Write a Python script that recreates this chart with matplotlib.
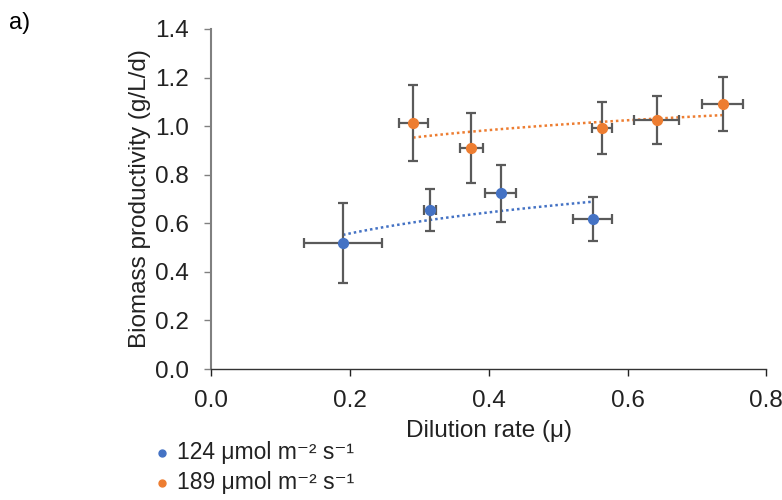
import matplotlib
matplotlib.use("Agg")
import matplotlib.pyplot as plt
from matplotlib.lines import Line2D
import numpy as np

plt.rcParams["font.family"] = ["Liberation Sans", "DejaVu Sans"]

# 124 umol m-2 s-1
blue_x = [0.19, 0.315, 0.417, 0.55]
blue_y = [0.519, 0.655, 0.724, 0.617]
blue_xerr = [0.056, 0.009, 0.022, 0.028]
blue_yerr = [0.165, 0.087, 0.118, 0.09]

# 189 umol m-2 s-1
orange_x = [0.291, 0.375, 0.563, 0.642, 0.737]
orange_y = [1.012, 0.91, 0.992, 1.025, 1.091]
orange_xerr = [0.021, 0.016, 0.014, 0.032, 0.03]
orange_yerr = [0.157, 0.144, 0.108, 0.1, 0.11]

labels = ["124 μmol m⁻² s⁻¹", "189 μmol m⁻² s⁻¹"]
colors = ["#4472C4", "#ED7D31"]

fig = plt.figure(figsize=(7.82, 5.0), dpi=100)
ax = fig.add_axes([0.27, 0.262, 0.71, 0.68])

series = [(blue_x, blue_y, blue_xerr, blue_yerr), (orange_x, orange_y, orange_xerr, orange_yerr)]
for (x, y, xe, ye), c in zip(series, colors):
    x = np.array(x)
    y = np.array(y)
    # power trendline, as in the spreadsheet chart
    b, a = np.polyfit(np.log(x), np.log(y), 1)
    xs = np.linspace(x.min(), x.max(), 100)
    ax.plot(xs, np.exp(a) * xs ** b, ls=(0, (1, 1.2)), color=c, lw=1.8, zorder=2)
    ax.errorbar(x, y, xerr=xe, yerr=ye, fmt="none", ecolor="#5a5a5a",
                elinewidth=1.6, capsize=3.5, capthick=1.6, zorder=3)
    ax.scatter(x, y, s=50, color=c, zorder=4)

ax.set_xlim(0, 0.8)
ax.set_ylim(0, 1.4)
ax.set_xticks(np.arange(0, 0.81, 0.2))
ax.set_yticks(np.arange(0, 1.41, 0.2))
ax.xaxis.set_major_formatter(matplotlib.ticker.FormatStrFormatter("%.1f"))
ax.yaxis.set_major_formatter(matplotlib.ticker.FormatStrFormatter("%.1f"))
ax.tick_params(labelsize=17.5, colors="#222222", length=5, width=1)
ax.tick_params(axis="x", pad=10)
ax.tick_params(axis="y", color="#808080", pad=11)
for s in ["top", "right"]:
    ax.spines[s].set_visible(False)
ax.spines["left"].set_color("#808080")
ax.spines["left"].set_linewidth(1.5)
ax.spines["bottom"].set_color("#333333")
ax.spines["bottom"].set_linewidth(1.0)

ax.set_xlabel("Dilution rate (μ)", fontsize=17.5, color="#222222", labelpad=6)
ax.set_ylabel("Biomass productivity (g/L/d)", fontsize=17.5, color="#222222", labelpad=3)

# legend below the plot, drawn item by item
for i, (lab, c) in enumerate(zip(labels, colors)):
    yy = 0.094 - i * 0.06
    fig.add_artist(Line2D([0.207], [yy], marker="o", ms=5, color=c, ls="none",
                          transform=fig.transFigure))
    fig.text(0.226, yy, lab, fontsize=16.5, va="center", ha="left", color="#222222")

fig.text(0.011, 0.955, "a)", fontsize=17, va="center", ha="left")

fig.savefig("out.png", dpi=100)
